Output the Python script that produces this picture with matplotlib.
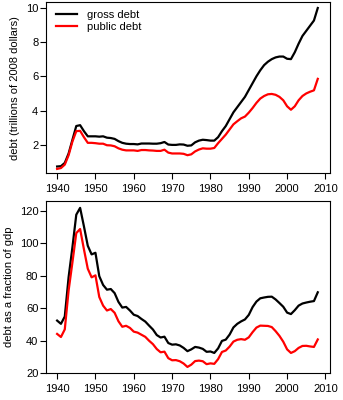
import numpy as np
import matplotlib
matplotlib.use("Agg")
import matplotlib.pyplot as plt

plt.rcParams['font.family'] = ['Liberation Sans', 'DejaVu Sans']
plt.rcParams['font.size'] = 8

years = np.arange(1940, 2009)

# debt in trillions of 2008 dollars
gross_debt = [0.74, 0.76, 0.95, 1.5, 2.3, 3.1, 3.15, 2.8, 2.5, 2.5,
              2.5, 2.48, 2.5, 2.42, 2.4, 2.35, 2.22, 2.12, 2.07, 2.05,
              2.05, 2.03, 2.08, 2.08, 2.08, 2.07, 2.07, 2.1, 2.17, 2.02,
              2.0, 2.0, 2.03, 2.02, 1.95, 1.97, 2.15, 2.25, 2.3, 2.28,
              2.25, 2.25, 2.45, 2.8, 3.1, 3.5, 3.9, 4.2, 4.5, 4.8,
              5.2, 5.6, 6.0, 6.35, 6.65, 6.85, 7.0, 7.1, 7.15, 7.15,
              7.02, 7.0, 7.4, 7.9, 8.35, 8.65, 8.95, 9.25, 9.98]
public_debt = [0.6, 0.65, 0.85, 1.4, 2.2, 2.8, 2.82, 2.45, 2.12, 2.12,
               2.1, 2.07, 2.07, 1.98, 1.97, 1.92, 1.8, 1.72, 1.68, 1.68,
               1.68, 1.65, 1.7, 1.7, 1.68, 1.67, 1.65, 1.65, 1.72, 1.55,
               1.5, 1.5, 1.5, 1.48, 1.4, 1.45, 1.62, 1.73, 1.8, 1.78,
               1.78, 1.82, 2.1, 2.35, 2.6, 2.9, 3.2, 3.38, 3.55, 3.65,
               3.88, 4.15, 4.45, 4.7, 4.85, 4.95, 4.97, 4.92, 4.8, 4.6,
               4.25, 4.05, 4.25, 4.6, 4.85, 5.0, 5.1, 5.18, 5.85]

# debt as a percent of gdp
gross_gdp = [52.4, 50.4, 54.9, 79.1, 97.6, 117.5, 121.7, 110.3, 98.4, 93.1,
             94.1, 79.7, 74.3, 71.4, 71.8, 69.3, 63.9, 60.4, 60.8, 58.6,
             56.0, 55.2, 53.4, 51.8, 49.3, 46.9, 43.5, 42.0, 42.5, 38.6,
             37.6, 37.8, 37.1, 35.6, 33.6, 34.7, 36.2, 35.8, 35.0, 33.2,
             33.4, 32.5, 35.3, 39.9, 40.7, 43.8, 48.2, 50.4, 51.9, 53.1,
             55.9, 60.7, 64.1, 66.1, 66.6, 67.0, 67.1, 65.4, 63.2, 60.9,
             57.3, 56.4, 58.8, 61.6, 62.9, 63.5, 64.0, 64.4, 69.8]
public_gdp = [44.2, 42.3, 47.0, 70.9, 88.3, 106.2, 108.7, 96.2, 84.3, 79.0,
              80.2, 66.9, 61.6, 58.6, 59.5, 57.2, 52.0, 48.6, 49.2, 47.9,
              45.6, 45.0, 43.7, 42.4, 40.0, 37.9, 34.9, 32.9, 33.3, 29.3,
              28.0, 28.1, 27.4, 26.0, 23.9, 25.3, 27.5, 27.8, 27.4, 25.6,
              26.1, 25.8, 28.7, 33.1, 34.0, 36.4, 39.5, 40.6, 41.0, 40.6,
              42.1, 45.3, 48.1, 49.3, 49.2, 49.1, 48.4, 45.9, 43.0, 39.4,
              34.7, 32.5, 33.6, 35.6, 36.8, 36.9, 36.5, 36.2, 40.8]

fig = plt.figure(figsize=(3.43, 4.0), dpi=100)
ax1 = fig.add_axes([0.1341, 0.567, 0.827, 0.428])
ax2 = fig.add_axes([0.1341, 0.0668, 0.827, 0.431])

ax1.plot(years, gross_debt, color='black', lw=1.6, label='gross debt')
ax1.plot(years, public_debt, color='red', lw=1.6, label='public debt')
ax1.set_ylim(0.35, 10.33)
ax1.set_yticks([2, 4, 6, 8, 10])
ax1.set_ylabel('debt (trillions of 2008 dollars)', labelpad=4)
ax1.legend(loc='upper left', bbox_to_anchor=(0.035, 0.955), frameon=False,
           borderpad=0, borderaxespad=0, handlelength=1.9, handletextpad=0.9,
           labelspacing=0.2)

ax2.plot(years, gross_gdp, color='black', lw=1.6)
ax2.plot(years, public_gdp, color='red', lw=1.6)
ax2.set_ylim(20, 126)
ax2.set_yticks([20, 40, 60, 80, 100, 120])
ax2.set_ylabel('debt as a fraction of gdp', labelpad=4)

for ax in (ax1, ax2):
    ax.set_xlim(1937.1, 2011.1)
    ax.set_xticks(range(1940, 2011, 10))
    for s in ax.spines.values():
        s.set_linewidth(0.8)
    ax.tick_params(axis='x', length=4.5, width=0.8, pad=3.5)
    ax.tick_params(axis='y', length=4.5, width=0.8, pad=1)

fig.savefig('out.png', dpi=100)
